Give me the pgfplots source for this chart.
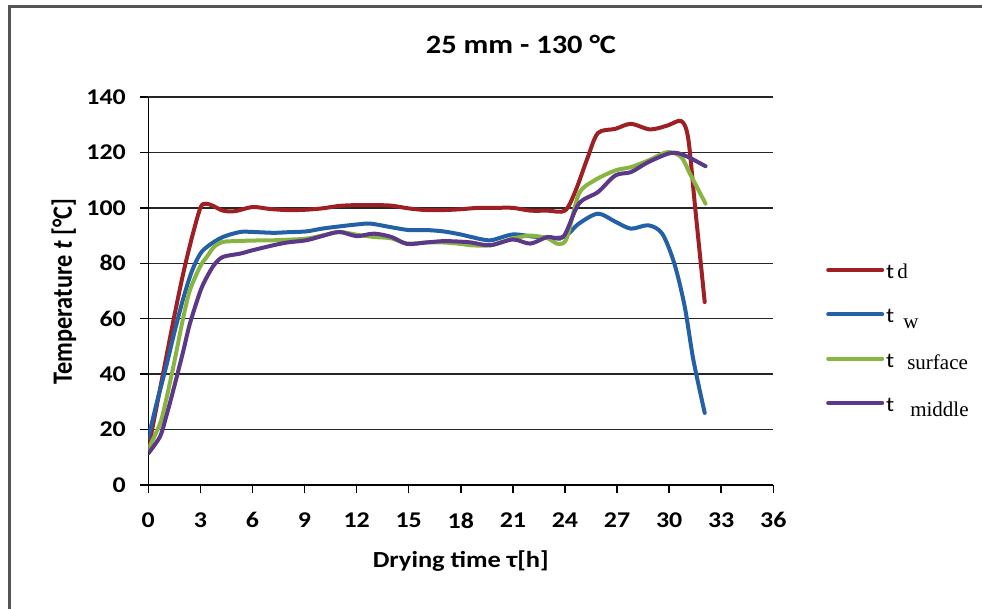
\documentclass[border=0pt]{standalone}
\usepackage{fontspec}
\setmainfont{Carlito}[FakeStretch=1.15]
\newfontfamily\plainfont{Carlito}
\newfontfamily\serif{Liberation Serif}
\usepackage{pgfplots}
\pgfplotsset{compat=1.18}
\definecolor{cred}{RGB}{158,32,36}
\definecolor{cblue}{RGB}{36,96,166}
\definecolor{cgreen}{RGB}{136,180,66}
\definecolor{cpurple}{RGB}{92,56,136}
\definecolor{frame}{RGB}{85,85,85}
\newcommand{\leg}[3]{t\hspace{#1}\raisebox{-#2}{\serif #3}}
\begin{document}
\begin{tikzpicture}
\useasboundingbox (0pt,0pt) rectangle (982pt,608pt);
\draw[frame, line width=3pt] (9.5pt,-20pt) -- (9.5pt,601.5pt) -- (1010pt,601.5pt);
\begin{axis}[
  at={(148.3pt,123pt)}, anchor=south west,
  scale only axis, width=625pt, height=388pt,
  xmin=0, xmax=36, ymin=0, ymax=140,
  xtick={0,3,...,36}, ytick={0,20,...,140},
  axis lines*=left,
  axis line style={black, line width=1.5pt},
  tick align=outside, major tick length=8pt,
  tick style={black, line width=1.5pt},
  ymajorgrids, grid style={black!85, line width=1.5pt},
  /pgf/number format/assume math mode=true,
  ticklabel style={font=\fontsize{22.5}{22.5}\selectfont\bfseries},
  yticklabel style={xshift=-11pt},
  xticklabel style={yshift=-16pt},
  xlabel={\textbf{Drying time τ[h]}},
  ylabel={\scalebox{1}[1.15]{\plainfont\textbf{Temperature \textit{t} [°C]}}},
  xlabel style={font=\fontsize{23}{23}\selectfont, at={(axis description cs:0.5,-0.2139)}, anchor=base},
  ylabel style={font=\fontsize{24.3}{24.3}\selectfont, at={(axis description cs:-0.1221,0.4987)}, anchor=base},
  legend style={at={(axis description cs:1.0843,0.5688)}, anchor=north west,
    draw=none, fill=none, inner sep=0pt, row sep=22.3pt, column sep=2pt,
    font=\fontsize{21}{21}\selectfont,
    nodes={inner sep=0pt, text height=14pt, text depth=8pt}},
  legend cell align=left,
  legend image code/.code={\draw[#1, line cap=round] (0pt,5.5pt) -- (54pt,5.5pt);},
  every axis plot/.append style={line width=4pt, smooth, line cap=round, line join=round},
]
\addplot[cred] coordinates {(0,13) (0.5,29) (1,45) (1.5,61) (2,76) (2.5,89) (3,100) (3.3,101.5) (3.7,100.8) (4.3,99) (5,98.8) (6,100.3) (7,99.6) (8,99.2) (9,99.3) (10,99.8) (11,100.7) (12,101) (13,101) (14,100.8) (15,99.8) (16,99.2) (17,99.2) (18,99.5) (19,100) (20,100) (21,100) (22,99) (23,99) (24,99) (24.6,106) (25.3,118) (25.9,127) (26.9,128.5) (27.8,130.3) (28.9,128.3) (29.9,129.7) (30.7,131.3) (31.1,125) (31.5,100) (32.05,66)};
\addlegendentry{\leg{3pt}{0pt}{d}}
\addplot[cblue] coordinates {(0,17) (0.5,30) (1,42) (1.5,55) (2,67) (2.5,77) (3,83.5) (3.5,86.5) (4.3,89.5) (5.3,91.3) (6,91.3) (7.2,91) (8,91.2) (9.1,91.5) (10,92.5) (11,93.3) (12,94) (12.8,94.3) (14,93) (15,92) (16,92) (17,91.5) (18,90.4) (18.6,89.5) (19.7,88.3) (21,90.4) (22.4,89.5) (23.9,89.5) (24.8,94.3) (25.9,97.9) (26.9,95) (27.8,92.5) (28.8,93.7) (29.6,90.7) (30.3,79.9) (30.9,64.3) (31.4,45) (32.05,26)};
\addlegendentry{\leg{9pt}{6pt}{w}}
\addplot[cgreen] coordinates {(0,13) (0.67,22) (1,30) (1.44,42.6) (2,60) (2.4,70.3) (3,79) (3.37,82.3) (3.8,86) (4.3,87.7) (5,88) (6,88.2) (7.2,88.3) (8,88.5) (9.1,88.9) (10,90) (11,91.3) (12,90.3) (13,89.5) (14,89) (14.9,87.1) (16,87.5) (17,87.5) (18,87) (18.6,86.5) (19.7,86.5) (21,88.9) (22,90) (23,89) (23.6,87) (24.1,89) (24.8,105) (25.7,109.9) (26.9,113.5) (27.8,114.7) (28.8,117.1) (29.9,120.1) (30.7,118.3) (31.2,112.3) (32.1,101.5)};
\addlegendentry{\leg{13pt}{2pt}{surface}}
\addplot[cpurple] coordinates {(0,11.4) (0.67,17.4) (1,24) (1.44,34.2) (2,48) (2.4,58.3) (3,70) (3.37,75) (3.8,79.5) (4.3,82.3) (5.3,83.5) (6,84.7) (7.2,86.5) (8,87.5) (9.1,88.3) (10,89.8) (11,91.3) (12,89.8) (13,90.7) (14,89.5) (14.9,87) (16,87.5) (17,88) (18,87.8) (18.6,87.5) (19.7,86.5) (21,88.6) (22,87.1) (23,89.5) (23.9,89.5) (24.8,101.5) (25.9,105.7) (26.9,111.7) (27.8,112.9) (28.8,116.5) (30.1,119.8) (30.9,118.9) (32.1,115)};
\addlegendentry{\leg{16pt}{5pt}{middle}}
\end{axis}
\node[font=\fontsize{26.5}{26.5}\selectfont\bfseries, anchor=base] at (521pt,554.7pt) {25 mm - 130 °C};
\end{tikzpicture}
\end{document}
